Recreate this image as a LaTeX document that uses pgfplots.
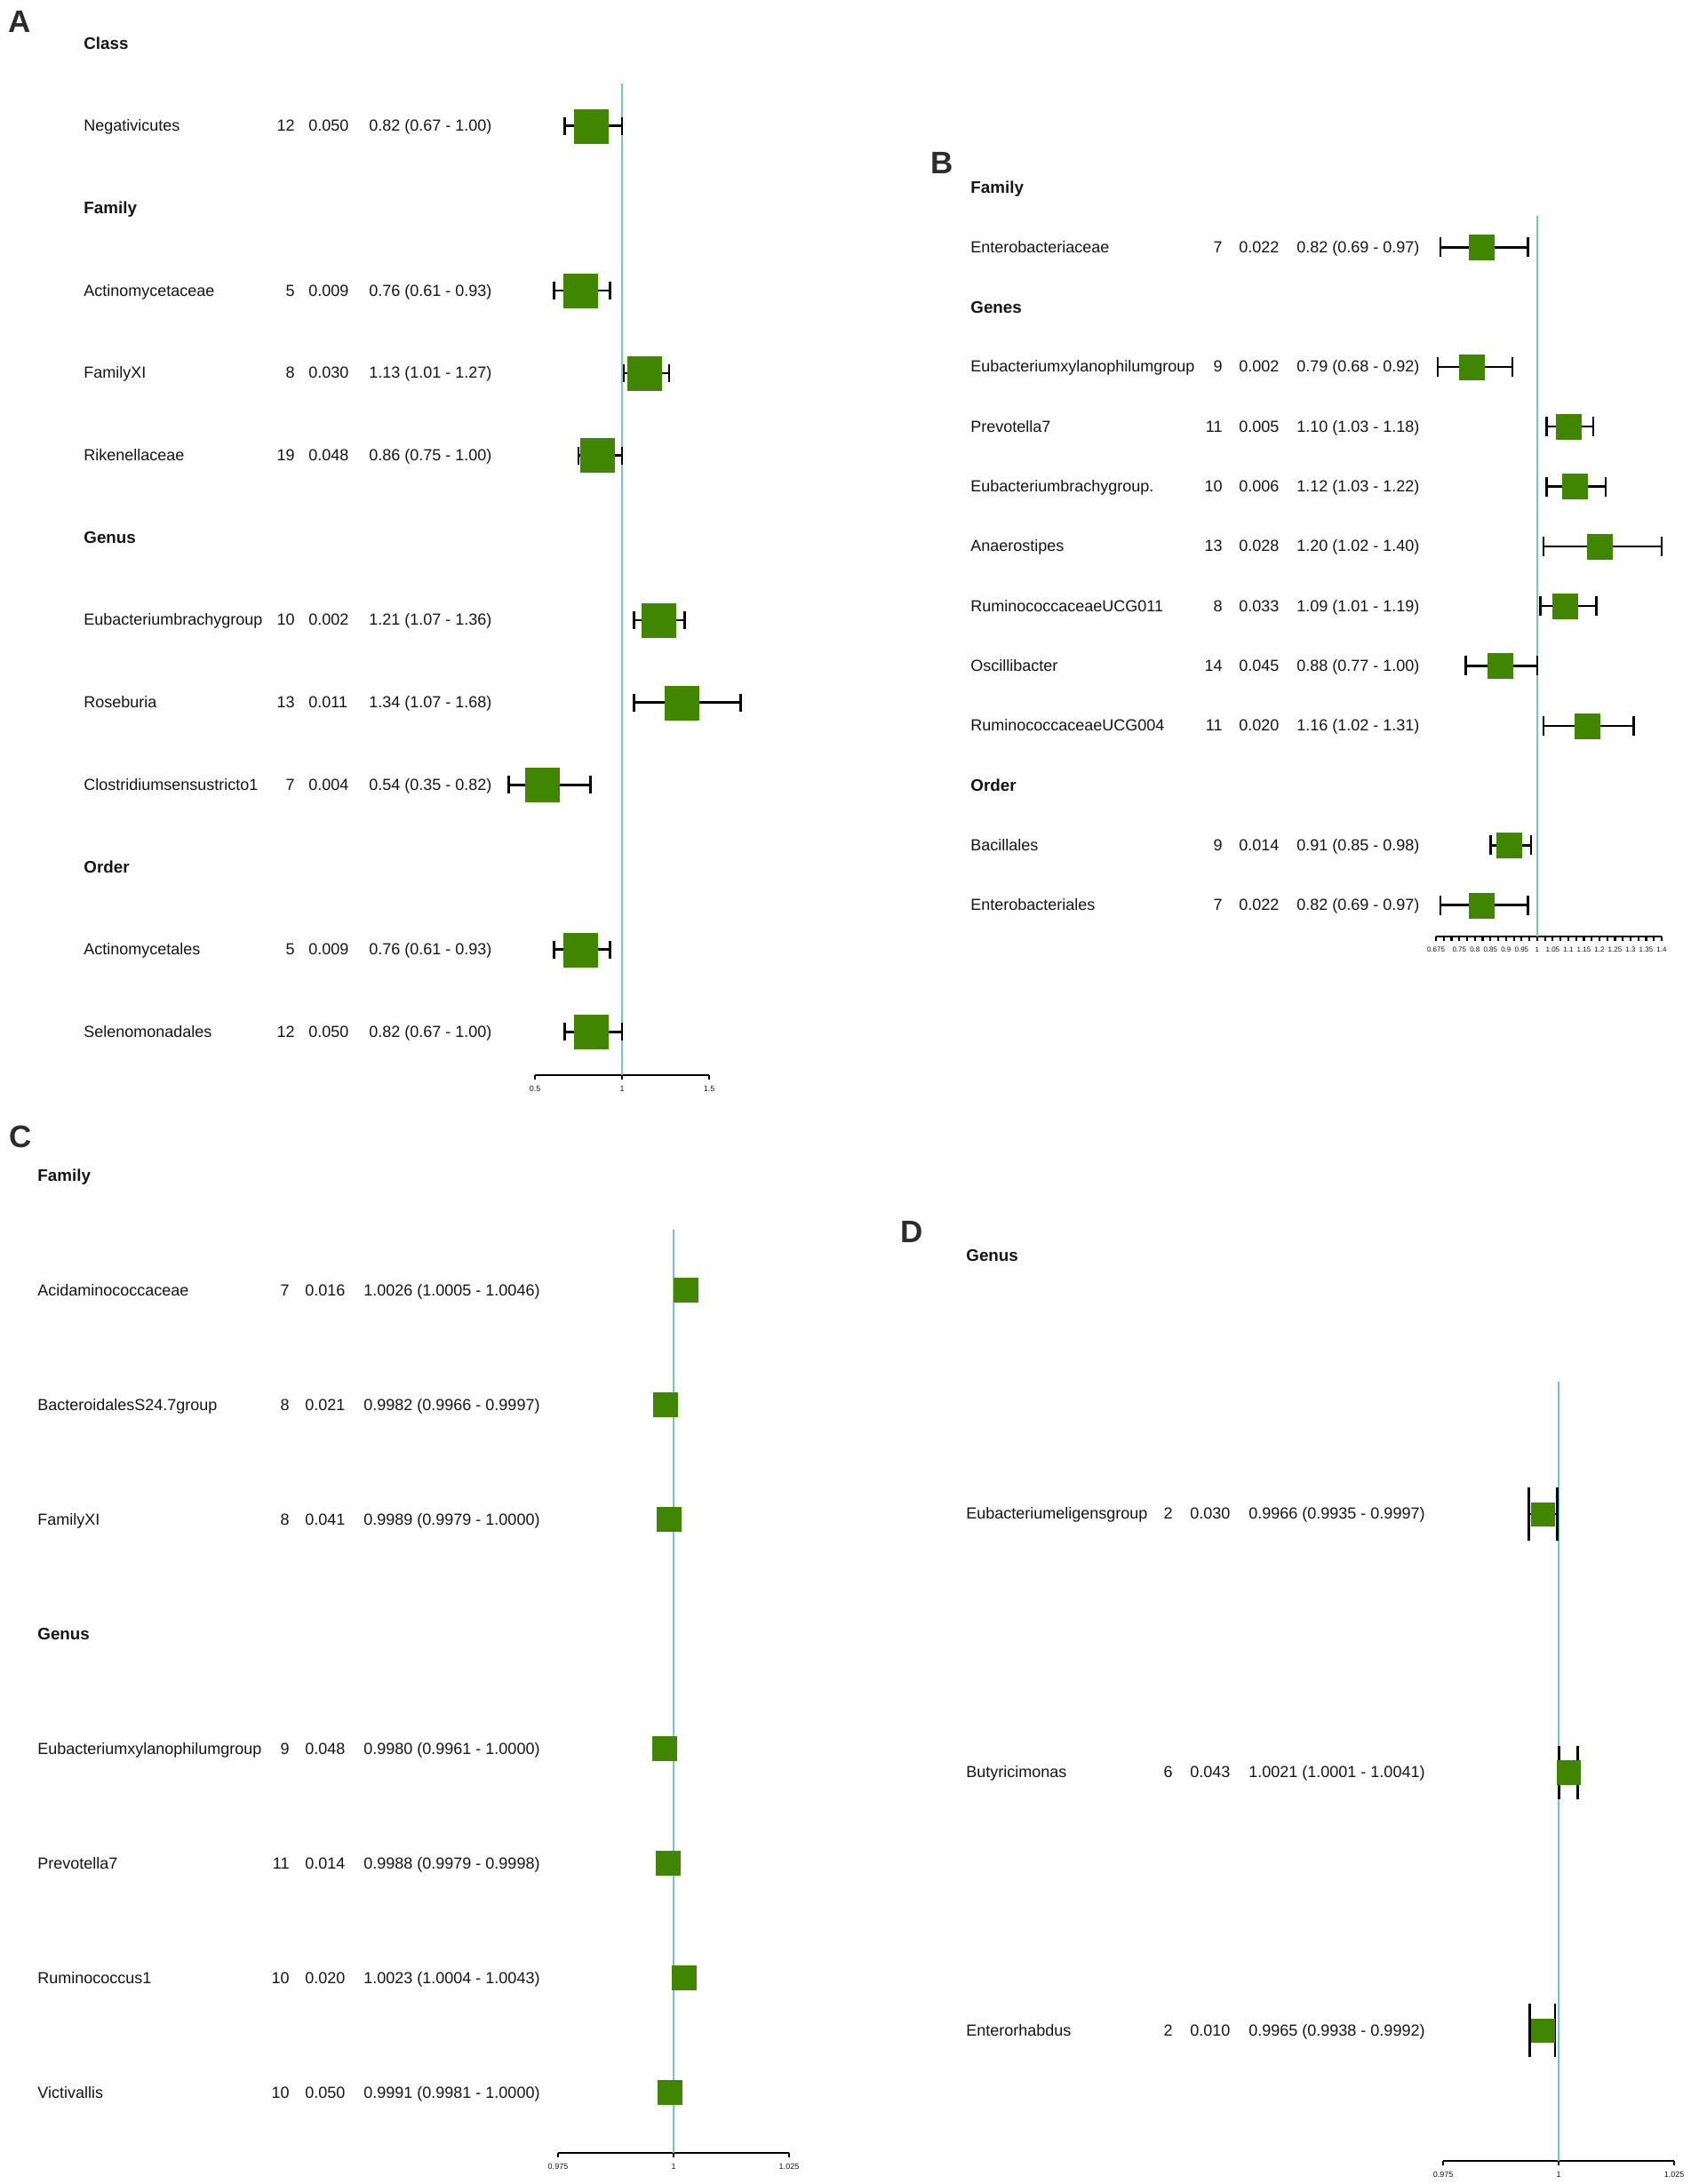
\documentclass[border=0pt]{standalone}
\usepackage{fontspec}
\setmainfont{Liberation Sans}
\usepackage{pgfplots}
\usepackage{pgfplotstable}
\pgfplotsset{compat=1.18}

\definecolor{boxgreen}{RGB}{64,134,0}
\definecolor{refline}{RGB}{118,196,204}
\definecolor{txt}{RGB}{20,20,20}

% forest plot rows: y = -row index, or, lower, upper
\pgfplotstableread{
y    or    lo    hi
-1   0.82  0.67  1.00
-3   0.76  0.61  0.93
-4   1.13  1.01  1.27
-5   0.86  0.75  1.00
-7   1.21  1.07  1.36
-8   1.34  1.07  1.68
-9   0.54  0.35  0.82
-11  0.76  0.61  0.93
-12  0.82  0.67  1.00
}\tabA

\pgfplotstableread{
y    or    lo    hi
-1   0.82  0.69  0.97
-3   0.79  0.68  0.92
-4   1.10  1.03  1.18
-5   1.12  1.03  1.22
-6   1.20  1.02  1.40
-7   1.09  1.01  1.19
-8   0.88  0.77  1.00
-9   1.16  1.02  1.31
-11  0.91  0.85  0.98
-12  0.82  0.69  0.97
}\tabB

\pgfplotstableread{
y    or      lo      hi
-1   1.0026  1.0005  1.0046
-2   0.9982  0.9966  0.9997
-3   0.9989  0.9979  1.0000
-5   0.9980  0.9961  1.0000
-6   0.9988  0.9979  0.9998
-7   1.0023  1.0004  1.0043
-8   0.9991  0.9981  1.0000
}\tabC

\pgfplotstableread{
y    or      lo      hi
-1   0.9966  0.9935  0.9997
-2   1.0021  1.0001  1.0041
-3   0.9965  0.9938  0.9992
}\tabD

\pgfplotsset{forest/.style={
  scale only axis, clip=false, enlargelimits=false,
  axis x line*=bottom, axis y line=none,
  x axis line style={line width=1.3pt, -},
  tick align=outside, major tick length=2.5pt, minor tick length=2.5pt,
  tick style={black, line width=1.1pt},
  ytick=\empty,
  xticklabel style={font=\fontsize{4.5}{5}\selectfont, text=txt},
  /pgf/number format/assume math mode=true,
}}
% error bars with vertical caps, then the green boxes on top
\newcommand\ciplot[3]{%
  \addplot[draw=none, mark=none, forget plot,
    error bars/.cd, x dir=both, x explicit, error mark=|,
    error bar style={draw=black, line width=#2},
    error mark options={draw=black, line width=#2, mark size=#3}]
    table[x=or, y=y, x error plus expr=\thisrow{hi}-\thisrow{or},
          x error minus expr=\thisrow{or}-\thisrow{lo}] {#1};}
\newcommand\boxplot[2]{%
  \addplot[only marks, mark=square*, mark size=#2, draw=boxgreen, fill=boxgreen,
    mark options={solid, draw=boxgreen, fill=boxgreen, line width=0.1pt}]
    table[x=or, y=y] {#1};}

\newcommand\setcols[4]{\def\cname{#1}\def\cn{#2}\def\cp{#3}\def\cor{#4}}
\newcommand\trow[5]{%
  \node[lab, anchor=base west] at (\cname,{-(#1+6)}) {#2};
  \node[lab, anchor=base east] at (\cn,{-(#1+6)}) {#3};
  \node[lab, anchor=base west] at (\cp,{-(#1+6)}) {#4};
  \node[lab, anchor=base west] at (\cor,{-(#1+6)}) {#5};}
\newcommand\thead[2]{\node[hd, anchor=base west] at (\cname,{-(#1+6.5)}) {#2};}

\begin{document}
\begin{tikzpicture}[
  lab/.style={inner sep=0pt, text=txt, font=\fontsize{9}{10}\selectfont},
  hd/.style={inner sep=0pt, text=txt, font=\fontsize{9.4}{10}\selectfont\bfseries},
  pan/.style={inner sep=0pt, text=txt!90, font=\fontsize{17.5}{18}\selectfont\bfseries}]
\useasboundingbox (0,0) rectangle (951pt,-1229pt);

% ---------- A ----------
\begin{axis}[forest, at={(301pt,-605pt)}, anchor=south west,
  width=98pt, height=558pt,
  xmin=0.5, xmax=1.5, ymin=-12.524, ymax=-0.485,
  xtick={0.5,1,1.5}, xticklabels={0.5,1,1.5}]
\addplot[refline, line width=1pt, forget plot] coordinates {(1,-0.485) (1,-12.524)};
\ciplot{\tabA}{1.3pt}{5pt}
\boxplot{\tabA}{9.5pt}
\end{axis}

% ---------- B ----------
\begin{axis}[forest, at={(808pt,-527pt)}, anchor=south west,
  width=127pt, height=405.5pt,
  xmin=0.675, xmax=1.4, ymin=-12.526, ymax=-0.475,
  xtick={0.675,0.75,0.8,0.85,0.9,0.95,1,1.05,1.1,1.15,1.2,1.25,1.3,1.35,1.4},
  xticklabels={0.675,0.75,0.8,0.85,0.9,0.95,1,1.05,1.1,1.15,1.2,1.25,1.3,1.35,1.4},
  minor xtick={0.7,0.725,0.775,0.825,0.875,0.925,0.975,1.025,1.075,1.125,1.175,1.225,1.275,1.325,1.375},
  xticklabel style={font=\fontsize{4}{4.5}\selectfont}]
\addplot[refline, line width=1pt, forget plot] coordinates {(1,-0.475) (1,-12.526)};
\ciplot{\tabB}{1.2pt}{5.5pt}
\boxplot{\tabB}{7pt}
\end{axis}

% ---------- C ----------
\begin{axis}[forest, at={(314pt,-1211.5pt)}, anchor=south west,
  width=130pt, height=519.5pt,
  xmin=0.975, xmax=1.025, ymin=-8.527, ymax=-0.473,
  xtick={0.975,1,1.025}, xticklabels={0.975,1,1.025}]
\addplot[refline, line width=1pt, forget plot] coordinates {(1,-0.473) (1,-8.527)};
\ciplot{\tabC}{1.2pt}{4pt}
\boxplot{\tabC}{6.75pt}
\end{axis}

% ---------- D ----------
\begin{axis}[forest, at={(812pt,-1216pt)}, anchor=south west,
  width=130pt, height=438.5pt,
  xmin=0.975, xmax=1.025, ymin=-3.505, ymax=-0.488,
  xtick={0.975,1,1.025}, xticklabels={0.975,1,1.025}]
\addplot[refline, line width=1pt, forget plot] coordinates {(1,-0.488) (1,-3.505)};
\ciplot{\tabD}{1.3pt}{15pt}
\boxplot{\tabD}{6.6pt}
\end{axis}

\begin{scope}[x=0.5pt, y=0.5pt]
% ---------- text A ----------
\node[pan] at (22,-24.5) {A};
\setcols{94}{332}{347}{415}
\thead{49}{Class}
\trow{49+92.7*1}{Negativicutes}{12}{0.050}{0.82 (0.67 - 1.00)}
\thead{49+92.7*2}{Family}
\trow{49+92.7*3}{Actinomycetaceae}{5}{0.009}{0.76 (0.61 - 0.93)}
\trow{49+92.7*4}{FamilyXI}{8}{0.030}{1.13 (1.01 - 1.27)}
\trow{49+92.7*5}{Rikenellaceae}{19}{0.048}{0.86 (0.75 - 1.00)}
\thead{49+92.7*6}{Genus}
\trow{49+92.7*7}{Eubacteriumbrachygroup}{10}{0.002}{1.21 (1.07 - 1.36)}
\trow{49+92.7*8}{Roseburia}{13}{0.011}{1.34 (1.07 - 1.68)}
\trow{49+92.7*9}{Clostridiumsensustricto1}{7}{0.004}{0.54 (0.35 - 0.82)}
\thead{49+92.7*10}{Order}
\trow{49+92.7*11}{Actinomycetales}{5}{0.009}{0.76 (0.61 - 0.93)}
\trow{49+92.7*12}{Selenomonadales}{12}{0.050}{0.82 (0.67 - 1.00)}

% ---------- text B ----------
\node[pan] at (1060,-183) {B};
\setcols{1092}{1376}{1394}{1459}
\thead{211}{Family}
\trow{211+67.3*1}{Enterobacteriaceae}{7}{0.022}{0.82 (0.69 - 0.97)}
\thead{211+67.3*2}{Genes}
\trow{211+67.3*3}{Eubacteriumxylanophilumgroup}{9}{0.002}{0.79 (0.68 - 0.92)}
\trow{211+67.3*4}{Prevotella7}{11}{0.005}{1.10 (1.03 - 1.18)}
\trow{211+67.3*5}{Eubacteriumbrachygroup.}{10}{0.006}{1.12 (1.03 - 1.22)}
\trow{211+67.3*6}{Anaerostipes}{13}{0.028}{1.20 (1.02 - 1.40)}
\trow{211+67.3*7}{RuminococcaceaeUCG011}{8}{0.033}{1.09 (1.01 - 1.19)}
\trow{211+67.3*8}{Oscillibacter}{14}{0.045}{0.88 (0.77 - 1.00)}
\trow{211+67.3*9}{RuminococcaceaeUCG004}{11}{0.020}{1.16 (1.02 - 1.31)}
\thead{211+67.3*10}{Order}
\trow{211+67.3*11}{Bacillales}{9}{0.014}{0.91 (0.85 - 0.98)}
\trow{211+67.3*12}{Enterobacteriales}{7}{0.022}{0.82 (0.69 - 0.97)}

% ---------- text C ----------
\node[pan] at (23,-1279) {C};
\setcols{42}{326}{343}{409}
\thead{1323}{Family}
\trow{1323+129*1}{Acidaminococcaceae}{7}{0.016}{1.0026 (1.0005 - 1.0046)}
\trow{1323+129*2}{BacteroidalesS24.7group}{8}{0.021}{0.9982 (0.9966 - 0.9997)}
\trow{1323+129*3}{FamilyXI}{8}{0.041}{0.9989 (0.9979 - 1.0000)}
\thead{1323+129*4}{Genus}
\trow{1323+129*5}{Eubacteriumxylanophilumgroup}{9}{0.048}{0.9980 (0.9961 - 1.0000)}
\trow{1323+129*6}{Prevotella7}{11}{0.014}{0.9988 (0.9979 - 0.9998)}
\trow{1323+129*7}{Ruminococcus1}{10}{0.020}{1.0023 (1.0004 - 1.0043)}
\trow{1323+129*8}{Victivallis}{10}{0.050}{0.9991 (0.9981 - 1.0000)}

% ---------- text D ----------
\node[pan] at (1026,-1386) {D};
\setcols{1087}{1320}{1339}{1405}
\thead{1413}{Genus}
\trow{1413+290.7*1}{Eubacteriumeligensgroup}{2}{0.030}{0.9966 (0.9935 - 0.9997)}
\trow{1413+290.7*2}{Butyricimonas}{6}{0.043}{1.0021 (1.0001 - 1.0041)}
\trow{1413+290.7*3}{Enterorhabdus}{2}{0.010}{0.9965 (0.9938 - 0.9992)}
\end{scope}
\end{tikzpicture}
\end{document}
